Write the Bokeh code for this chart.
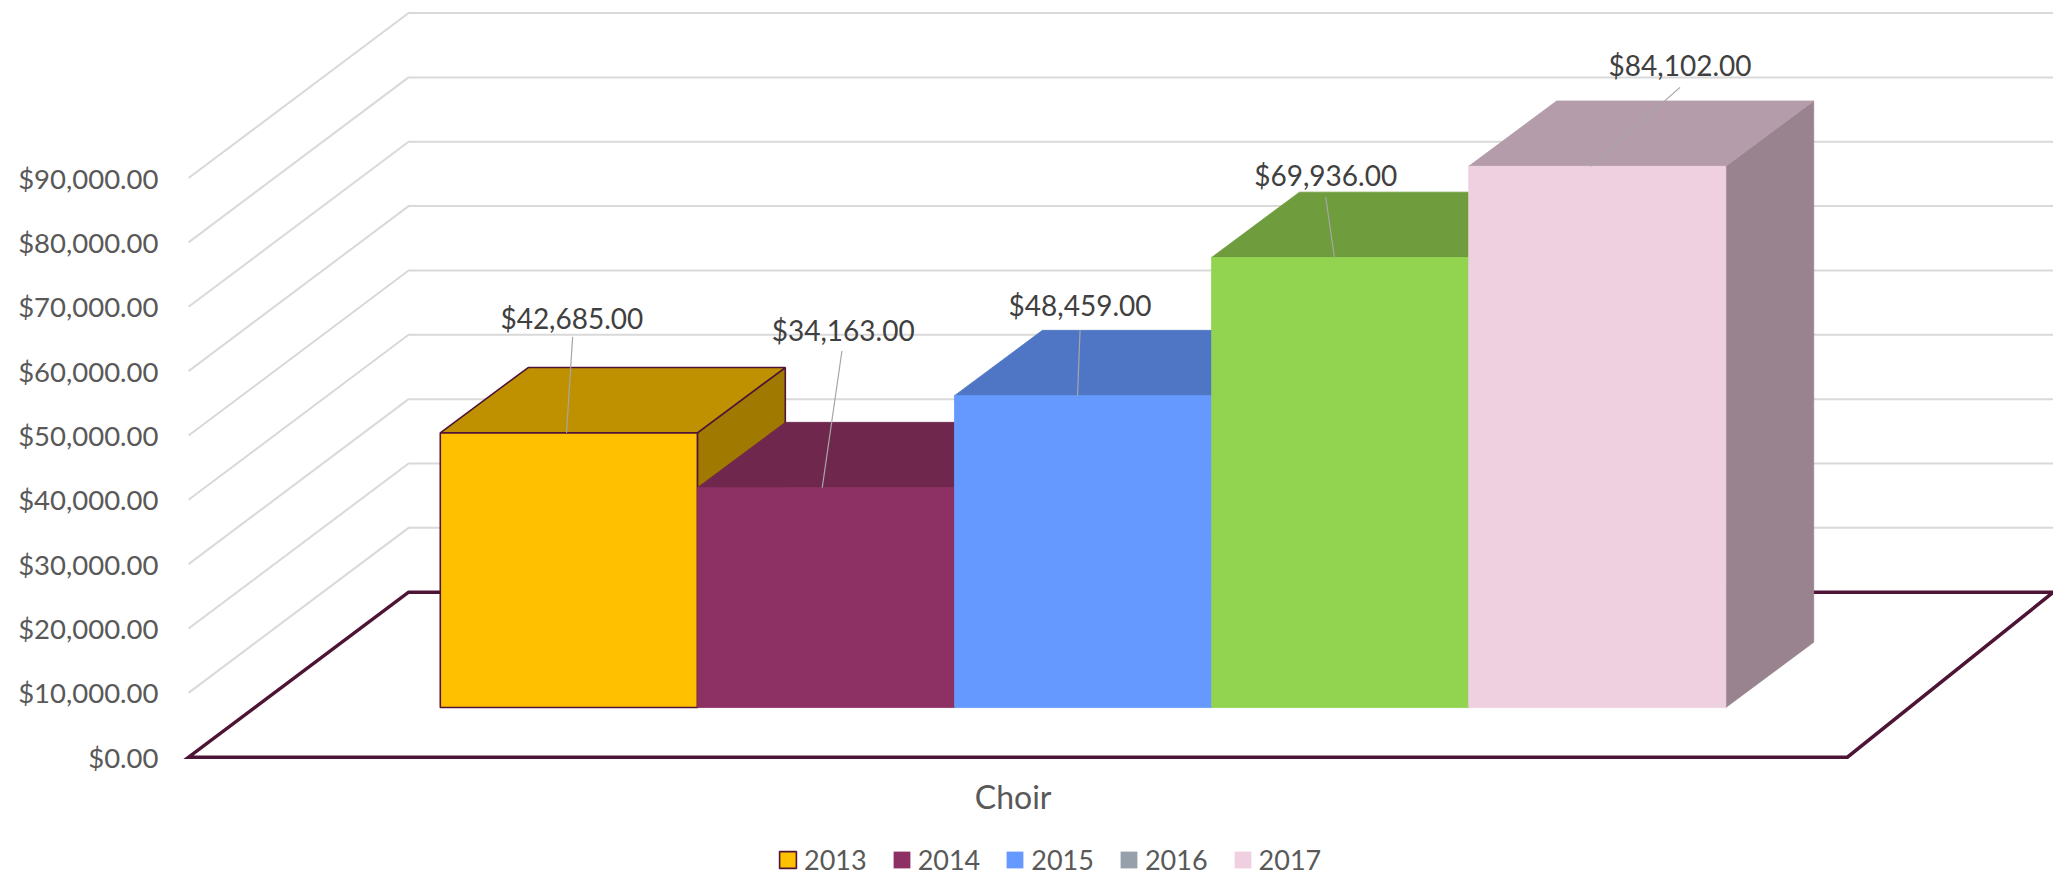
from bokeh.plotting import figure
from bokeh.embed import file_html
from bokeh.resources import INLINE
from bokeh.core.properties import value
from bokeh.models import Range1d, FixedTicker, NumeralTickFormatter, Legend, LegendItem

# ---- data ----
CATEGORY = "Choir"
YEARS = ["2013", "2014", "2015", "2016", "2017"]
VALUES = [42685, 34163, 48459, 69936, 84102]
Y_TICKS = [0, 10000, 20000, 30000, 40000, 50000, 60000, 70000, 80000, 90000]

# ---- styles ----
FRONT = ["#FFC000", "#8D3063", "#6699FF", "#92D450", "#EFD0E0"]
TOP = ["#BF9000", "#6F274D", "#4F76C4", "#6F9C3C", "#B49CAA"]
SIDE = ["#A07A00", "#5E2041", "#4060A3", "#5E8533", "#99838F"]
LEGEND_COLORS = ["#FFC000", "#8D3063", "#6699FF", "#95A0AB", "#EFD0E0"]
EDGE = ["#4F1438", None, None, None, None]
FONT = value("Lato")
AXIS_TEXT = "#595959"
LABEL_TEXT = "#404040"
GRID = "#D9D9D9"
FLOOR = "#4E1436"
LEADER = "#A6A6A6"

# ---- layout: scales ----
W, H = 2053, 876
BORDER_L = 165
PX_PER_UNIT = 257.1          # one bar slot
PX_PER_DOLLAR = 0.006435
UX = 1 / PX_PER_UNIT
UY = 1 / PX_PER_DOLLAR
X_START, X_END = -3.5688, -3.5688 + (W - BORDER_L) * UX
Y_START = -18539.0
Y_END = Y_START + H * UY

# oblique projection: depth 0 = front of floor, 1 = back wall
DEPTH_DY = 165 * UY
DEPTH_DX_LEFT = 220 * UX
DEPTH_DX_RIGHT = 206 * UX
DEPTH_DX_BAR = 222 * UX
FLOOR_L, FLOOR_R = -3.479, 2.973
BAR_DEPTH_FRONT, BAR_DEPTH_BACK = 0.301, 0.697
CHOIR_TICK = -0.272
CHOIR_AXIS_Y = -2067.0

# leader-line and label offsets from the bar's top-front centre (px)
LEADER_FOOT_DX = [-2.3, -3.7, -5.5, -5.7, -7.0]
LEADER_HEAD = [(3.8, 96), (16.0, 136.7), (-3.0, 65.4), (-14.4, 60.3), (82.8, 79)]
LABEL_POS = [(3.0, 114.4), (17.3, 157.7), (-3.0, 90.4), (-14.4, 82), (82.8, 101.7)]

p = figure(width=W, height=H, output_backend="svg", toolbar_location=None,
           x_range=Range1d(X_START, X_END), y_range=Range1d(Y_START, Y_END),
           min_border_left=BORDER_L, min_border_right=0, min_border_top=0,
           min_border_bottom=0, outline_line_color=None)
p.grid.visible = False

# axes
ya = p.yaxis[0]
ya.ticker = FixedTicker(ticks=Y_TICKS)
ya.formatter = NumeralTickFormatter(format="$0,0.00")
ya.axis_line_color = None
ya.major_tick_line_color = None
ya.minor_tick_line_color = None
ya.major_label_standoff = 1
ya.major_label_text_font = "Lato"
ya.major_label_text_font_size = "27.5px"
ya.major_label_text_color = AXIS_TEXT

xa = p.xaxis[0]
xa.ticker = FixedTicker(ticks=[CHOIR_TICK])
xa.major_label_overrides = {CHOIR_TICK: CATEGORY}
xa.fixed_location = CHOIR_AXIS_Y
xa.axis_line_color = None
xa.major_tick_line_color = None
xa.minor_tick_line_color = None
xa.major_label_standoff = 0
xa.major_label_text_font = "Lato"
xa.major_label_text_font_size = "32px"
xa.major_label_text_color = AXIS_TEXT

# gridlines: side wall + back wall
for t in Y_TICKS[1:]:
    p.line([FLOOR_L, FLOOR_L + DEPTH_DX_LEFT, FLOOR_R + DEPTH_DX_RIGHT],
           [t, t + DEPTH_DY, t + DEPTH_DY], line_color=GRID, line_width=2)

# floor
p.patch([FLOOR_L, FLOOR_R, FLOOR_R + DEPTH_DX_RIGHT, FLOOR_L + DEPTH_DX_LEFT],
        [0, 0, DEPTH_DY, DEPTH_DY], fill_color=None, line_color=FLOOR, line_width=3.5,
        line_join="miter")

# bars, painted left to right
y_front = BAR_DEPTH_FRONT * DEPTH_DY
y_back = BAR_DEPTH_BACK * DEPTH_DY
shift = (BAR_DEPTH_BACK - BAR_DEPTH_FRONT) * DEPTH_DX_BAR


def face_style(i, fill):
    # bars without an outline get a hairline of their own fill, so no seam shows
    if EDGE[i]:
        return dict(fill_color=fill, line_color=EDGE[i], line_width=1.6)
    return dict(fill_color=fill, line_color=fill, line_width=0.8)


for i, v in enumerate(VALUES):
    x0 = i - 2.5
    x1 = x0 + 1
    p.patch([x1, x1 + shift, x1 + shift, x1],
            [y_front, y_back, v + y_back, v + y_front], **face_style(i, SIDE[i]))
    p.patch([x0, x1, x1 + shift, x0 + shift],
            [v + y_front, v + y_front, v + y_back, v + y_back], **face_style(i, TOP[i]))
    p.quad(left=[x0], right=[x1], bottom=[y_front], top=[v + y_front], **face_style(i, FRONT[i]))

# leaders and value labels
for i, v in enumerate(VALUES):
    cx = i - 2
    top = v + y_front
    p.line([cx + LEADER_HEAD[i][0] * UX, cx + LEADER_FOOT_DX[i] * UX],
           [top + LEADER_HEAD[i][1] * UY, top], line_color=LEADER, line_width=1.2)
    p.text([cx + LABEL_POS[i][0] * UX], [top + LABEL_POS[i][1] * UY], text=[f"${v:,.2f}"],
           text_align="center", text_baseline="middle", text_font=FONT,
           text_font_size="28px", text_color=LABEL_TEXT)

# legend (swatches use their own colours: 2016 differs from its bar)
items = []
for i, year in enumerate(YEARS):
    kw = dict(line_color=EDGE[i], line_width=1.6) if EDGE[i] else dict(line_color=None)
    r = p.quad(left=[float("nan")], right=[float("nan")], bottom=[float("nan")], top=[float("nan")],
               fill_color=LEGEND_COLORS[i], **kw)
    items.append(LegendItem(label=year, renderers=[r]))
legend = Legend(items=items, orientation="horizontal", location=(612, 0),
                glyph_width=21, glyph_height=21, label_standoff=6, spacing=24,
                label_height=17, padding=0, margin=0, background_fill_alpha=0,
                border_line_color=None, label_text_font="Lato", label_text_font_size="27px",
                label_text_color=AXIS_TEXT)
p.add_layout(legend, "center")

open("out.html", "w").write(file_html(p, INLINE))
